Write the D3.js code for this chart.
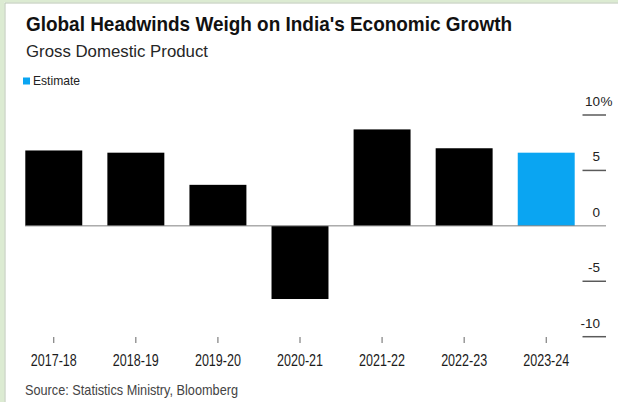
<!DOCTYPE html>
<html>
<head>
<meta charset="utf-8">
<script src="https://cdn.jsdelivr.net/npm/d3@7"></script>
<style>
  html, body { margin: 0; padding: 0; background: #ffffff; }
  svg { display: block; }
  text { font-family: "Liberation Sans", Arial, sans-serif; }
</style>
</head>
<body>
<div id="chart"></div>
<script>
// India GDP growth by fiscal year, percent
const categories = ["2017-18", "2018-19", "2019-20", "2020-21", "2021-22", "2022-23", "2023-24"];
const growth = [6.8, 6.6, 3.7, -6.6, 8.7, 7.0, 6.6];
const isEstimate = [false, false, false, false, false, false, true];
const yTicks = [10, 5, 0, -5, -10];

const W = 618, H = 402;
const svg = d3.select("#chart").append("svg")
  .attr("width", W).attr("height", H);

// page frame (light green band on the left and top)
svg.append("rect").attr("x", 0).attr("y", 0).attr("width", W).attr("height", H).attr("fill", "#ffffff");
svg.append("rect").attr("x", 0).attr("y", 0).attr("width", 4.5).attr("height", H).attr("fill", "#dcebd2");
svg.append("rect").attr("x", 0).attr("y", 0).attr("width", W).attr("height", 2.5).attr("fill", "#dcebd2");
svg.append("line").attr("x1", 5).attr("x2", 5).attr("y1", 3).attr("y2", H)
  .attr("stroke", "#b9c6b2").attr("stroke-width", 1);
svg.append("line").attr("x1", 5).attr("x2", W).attr("y1", 3).attr("y2", 3)
  .attr("stroke", "#b9c6b2").attr("stroke-width", 1);

// headings
svg.append("text").attr("x", 26).attr("y", 30.5)
  .attr("font-size", 20.5).attr("font-weight", "bold").attr("fill", "#111")
  .attr("textLength", 486).attr("lengthAdjust", "spacingAndGlyphs")
  .text("Global Headwinds Weigh on India's Economic Growth");
svg.append("text").attr("x", 26).attr("y", 57)
  .attr("font-size", 17).attr("fill", "#262626")
  .attr("textLength", 182).attr("lengthAdjust", "spacingAndGlyphs")
  .text("Gross Domestic Product");

// legend
svg.append("rect").attr("x", 23).attr("y", 77.5).attr("width", 7).attr("height", 7).attr("fill", "#0aa5f2");
svg.append("text").attr("x", 33).attr("y", 85)
  .attr("font-size", 13).attr("fill", "#222")
  .attr("textLength", 47).attr("lengthAdjust", "spacingAndGlyphs")
  .text("Estimate");

// scales
const x = d3.scaleBand().domain(categories).range([25.3, 574.7])
  .paddingInner(0.306).paddingOuter(0);
const y = d3.scaleLinear().domain([-10, 10]).range([336.7, 115]);

// bars
svg.append("g").selectAll("rect").data(categories).join("rect")
  .attr("x", d => x(d))
  .attr("width", x.bandwidth())
  .attr("y", (d, i) => y(Math.max(0, growth[i])))
  .attr("height", (d, i) => Math.abs(y(growth[i]) - y(0)))
  .attr("fill", (d, i) => isEstimate[i] ? "#0aa5f2" : "#000000");

// zero baseline
svg.append("line")
  .attr("x1", 25).attr("x2", 606)
  .attr("y1", y(0)).attr("y2", y(0))
  .attr("stroke", "#808080").attr("stroke-width", 1);

// right-hand value axis: short rules with labels above them
const yAxis = svg.append("g");
yAxis.selectAll("line.tick").data(yTicks.filter(t => t !== 0)).join("line")
  .attr("class", "tick")
  .attr("x1", 582.5).attr("x2", 606)
  .attr("y1", d => y(d)).attr("y2", d => y(d))
  .attr("stroke", "#5a5a5a").attr("stroke-width", 1.5);
yAxis.selectAll("text.num").data(yTicks).join("text")
  .attr("class", "num")
  .attr("x", 600).attr("y", d => y(d) - 9)
  .attr("text-anchor", "end")
  .attr("font-size", 13.5).attr("fill", "#222")
  .text(d => d);
yAxis.append("text")
  .attr("x", 600.5).attr("y", y(yTicks[0]) - 9)
  .attr("font-size", 13.5).attr("fill", "#222")
  .text("%");

// category axis
const xAxis = svg.append("g");
xAxis.selectAll("line").data(categories).join("line")
  .attr("x1", d => x(d) + x.bandwidth() / 2).attr("x2", d => x(d) + x.bandwidth() / 2)
  .attr("y1", 337).attr("y2", 343)
  .attr("stroke", "#666").attr("stroke-width", 1);
xAxis.selectAll("text").data(categories).join("text")
  .attr("x", d => x(d) + x.bandwidth() / 2).attr("y", 366)
  .attr("text-anchor", "middle")
  .attr("font-size", 16.5).attr("fill", "#1c1c1c")
  .attr("textLength", 46).attr("lengthAdjust", "spacingAndGlyphs")
  .text(d => d);

// source note
svg.append("text").attr("x", 25).attr("y", 395)
  .attr("font-size", 15).attr("fill", "#444")
  .attr("textLength", 213).attr("lengthAdjust", "spacingAndGlyphs")
  .text("Source: Statistics Ministry, Bloomberg");
</script>
</body>
</html>
